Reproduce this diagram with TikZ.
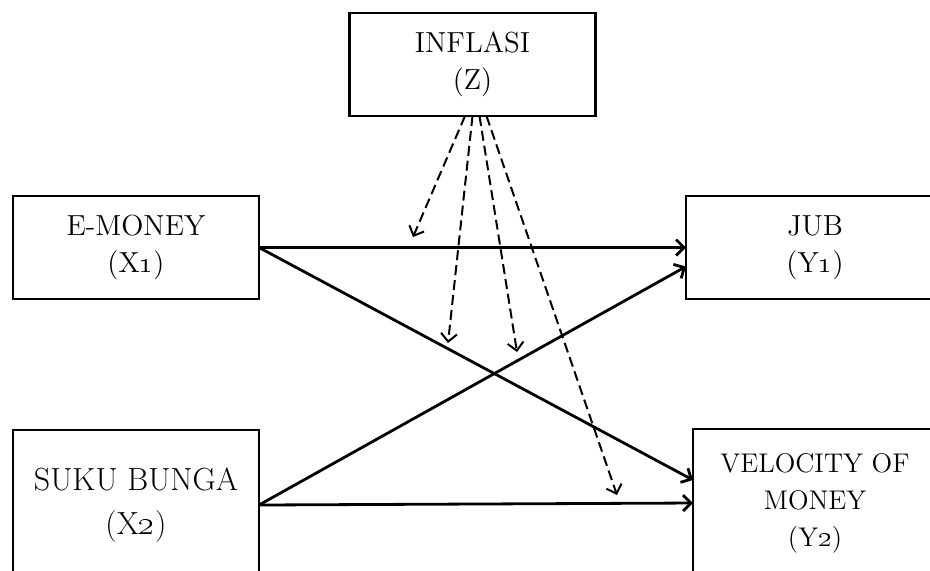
\documentclass[tikz,border=0pt]{standalone}
\usetikzlibrary{arrows.meta,calc}

\begin{document}
\begin{tikzpicture}[y=0.5pt, x=0.5pt, yscale=-1, xscale=1, inner sep=0pt, outer sep=0pt,
  varbox/.style={draw=black, line width=1.3pt, minimum width=123pt, minimum height=51.5pt, align=center},
  effect/.style={draw=black, line width=1.4pt, -{Straight Barb[length=4pt,width=8pt]}},
  moderation/.style={draw=black, line width=1pt, dash pattern=on 5pt off 2.5pt,
    -{Straight Barb[length=4pt,width=8pt]}}]
  \useasboundingbox (0,0) rectangle (930,570);
  % variables
  \node[varbox, font=\fontsize{14.5}{18.5}\selectfont] (inflasi) at (472.5,64.5) {INFLASI\\(Z)};
  \node[varbox, font=\fontsize{14.5}{18.5}\selectfont] (emoney) at (136,247.5) {E-MONEY\\(X\oldstylenums{1})};
  \node[varbox, minimum width=129pt, font=\fontsize{14.5}{18.5}\selectfont] (jub) at (815,247.5) {JUB\\(Y\oldstylenums{1})};
  \node[varbox, minimum height=75pt, font=\fontsize{16}{22}\selectfont] (suku) at (136,505) {SUKU BUNGA\\(X\oldstylenums{2})};
  \node[varbox, minimum width=122pt, minimum height=74pt, font=\fontsize{13.5}{18.5}\selectfont] (velocity) at (815,503)
    {VELOCITY OF\\MONEY\\(Y\oldstylenums{2})};
  % direct effects
  \draw[effect] (emoney.east) -- (jub.west);
  \draw[effect] (emoney.east) -- ($(velocity.west)+(0,-23)$);
  \draw[effect] (suku.east) -- ($(jub.west)+(0,19)$);
  \draw[effect] (suku.east) -- (velocity.west);
  % moderating effects
  \coordinate (mod1) at (413,237);
  \coordinate (mod2) at (448,343);
  \coordinate (mod3) at (517,352);
  \coordinate (mod4) at (617,495);
  \draw[moderation] ($(inflasi.south)+(-7.5,0)$) -- (mod1);
  \draw[moderation] ($(inflasi.south)+(0,0)$) -- (mod2);
  \draw[moderation] ($(inflasi.south)+(7,0)$) -- (mod3);
  \draw[moderation] ($(inflasi.south)+(14,0)$) -- (mod4);
\end{tikzpicture}
\end{document}
